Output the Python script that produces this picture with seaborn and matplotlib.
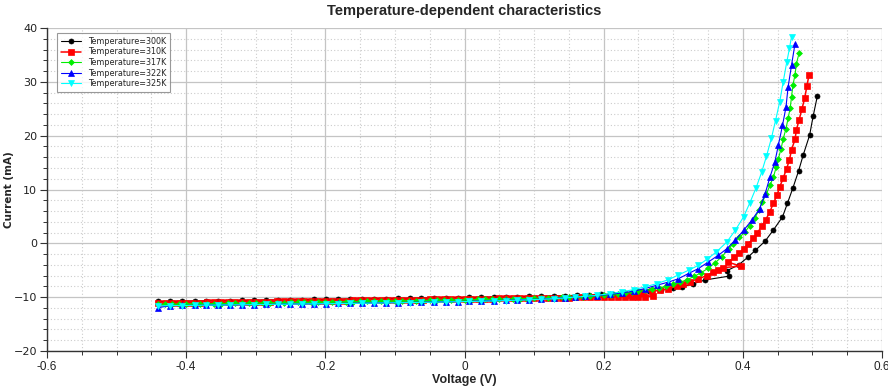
import numpy as np
import pandas as pd
import matplotlib
matplotlib.use("Agg")
import matplotlib.pyplot as plt
import seaborn as sns
from matplotlib.ticker import MultipleLocator

# ---------------- data ----------------
labels = ["Temperature=300K", "Temperature=310K", "Temperature=317K",
          "Temperature=322K", "Temperature=325K"]

V_300 = [-0.440, -0.423, -0.406, -0.388, -0.371, -0.354, -0.337, -0.320, -0.302, -0.285,
         -0.268, -0.251, -0.234, -0.216, -0.199, -0.182, -0.165, -0.148, -0.130, -0.113,
         -0.096, -0.079, -0.062, -0.044, -0.027, -0.010, 0.007, 0.024, 0.042, 0.059,
         0.076, 0.093, 0.110, 0.128, 0.145, 0.162, 0.179, 0.196, 0.213, 0.230,
         0.248, 0.265, 0.282, 0.299, 0.313, 0.329, 0.346, 0.380,
         0.377, 0.394, 0.407, 0.418, 0.432, 0.444, 0.457, 0.464, 0.472, 0.480,
         0.487, 0.496, 0.501, 0.507]
I_300 = [-10.80, -10.77, -10.74, -10.71, -10.68, -10.66, -10.63, -10.60, -10.57, -10.54,
         -10.51, -10.48, -10.46, -10.43, -10.40, -10.37, -10.34, -10.31, -10.28, -10.25,
         -10.23, -10.20, -10.17, -10.14, -10.11, -10.08, -10.04, -10.01, -9.98, -9.94,
         -9.91, -9.87, -9.82, -9.77, -9.72, -9.65, -9.59, -9.50, -9.40, -9.27,
         -9.10, -8.89, -8.63, -8.35, -8.10, -7.50, -6.80, -6.10,
         -5.10, -4.00, -2.60, -1.30, 0.40, 2.50, 4.90, 7.40, 10.30, 13.40,
         16.50, 20.10, 23.60, 27.30]

V_310 = [-0.44, -0.43, -0.42, -0.41, -0.40, -0.39, -0.38, -0.37, -0.36, -0.35,
         -0.34, -0.33, -0.32, -0.31, -0.30, -0.29, -0.28, -0.27, -0.26, -0.25,
         -0.24, -0.23, -0.22, -0.21, -0.20, -0.19, -0.18, -0.17, -0.16, -0.15,
         -0.14, -0.13, -0.12, -0.11, -0.10, -0.09, -0.08, -0.07, -0.06, -0.05,
         -0.04, -0.03, -0.02, -0.01, 0.00, 0.01, 0.02, 0.03, 0.04, 0.05,
         0.06, 0.07, 0.08, 0.09, 0.10, 0.11, 0.12, 0.13, 0.14, 0.15,
         0.16, 0.17, 0.18, 0.19, 0.20, 0.21, 0.22, 0.23, 0.24, 0.25,
         0.26, 0.271,
         0.235, 0.245, 0.257, 0.269, 0.281, 0.293, 0.305, 0.314, 0.324, 0.336,
         0.348, 0.357, 0.365, 0.372, 0.397, 0.379, 0.388, 0.395, 0.401, 0.408,
         0.415, 0.421, 0.427, 0.433, 0.439, 0.444, 0.449, 0.453, 0.458, 0.463,
         0.467, 0.470, 0.475, 0.477, 0.481, 0.485, 0.489, 0.492, 0.495]
I_310 = [-11.10, -11.08, -11.07, -11.05, -11.03, -11.01, -11.00, -10.98, -10.96, -10.94,
         -10.93, -10.91, -10.89, -10.87, -10.86, -10.84, -10.82, -10.80, -10.79, -10.77,
         -10.75, -10.73, -10.72, -10.70, -10.68, -10.66, -10.65, -10.63, -10.61, -10.59,
         -10.58, -10.56, -10.54, -10.52, -10.51, -10.49, -10.47, -10.45, -10.44, -10.42,
         -10.40, -10.38, -10.37, -10.35, -10.33, -10.31, -10.30, -10.28, -10.26, -10.24,
         -10.23, -10.21, -10.19, -10.17, -10.16, -10.14, -10.12, -10.10, -10.09, -10.07,
         -10.05, -10.03, -10.02, -10.00, -9.98, -9.96, -9.95, -9.93, -9.91, -9.89,
         -9.88, -9.86,
         -9.60, -9.35, -9.05, -8.90, -8.73, -8.45, -7.95, -7.55, -7.10, -6.60,
         -6.00, -5.40, -4.90, -4.50, -4.25, -3.50, -2.60, -1.80, -1.00, -0.06,
         0.90, 1.90, 3.20, 4.40, 5.90, 7.50, 8.90, 10.50, 12.10, 13.90,
         15.50, 17.40, 19.30, 21.10, 23.00, 25.00, 27.00, 29.20, 31.20]

V_317 = [-0.44, -0.43, -0.42, -0.41, -0.40, -0.39, -0.38, -0.37, -0.36, -0.35,
         -0.34, -0.33, -0.32, -0.31, -0.30, -0.29, -0.28, -0.27, -0.26, -0.25,
         -0.24, -0.23, -0.22, -0.21, -0.20, -0.19, -0.18, -0.17, -0.16, -0.15,
         -0.14, -0.13, -0.12, -0.11, -0.10, -0.09, -0.08, -0.07, -0.06, -0.05,
         -0.04, -0.03, -0.02, -0.01, 0.00, 0.01, 0.02, 0.03, 0.04, 0.05,
         0.06, 0.07, 0.08, 0.09, 0.10, 0.11, 0.12, 0.13, 0.14, 0.15,
         0.16, 0.17, 0.18, 0.19, 0.20, 0.21, 0.22, 0.23, 0.24, 0.25,
         0.26, 0.27, 0.28, 0.29, 0.30, 0.31, 0.32, 0.33, 0.34, 0.35,
         0.36, 0.37, 0.380, 0.386, 0.395, 0.403, 0.410, 0.417, 0.423, 0.428,
         0.434, 0.439, 0.444, 0.448, 0.451, 0.455, 0.458, 0.462, 0.465, 0.468,
         0.470, 0.472, 0.475, 0.477, 0.481]
I_317 = [-11.35, -11.33, -11.31, -11.29, -11.27, -11.25, -11.23, -11.21, -11.20, -11.18,
         -11.16, -11.14, -11.12, -11.10, -11.08, -11.06, -11.04, -11.02, -11.00, -10.98,
         -10.96, -10.94, -10.93, -10.91, -10.89, -10.87, -10.85, -10.83, -10.81, -10.79,
         -10.77, -10.75, -10.73, -10.71, -10.69, -10.67, -10.66, -10.64, -10.62, -10.60,
         -10.57, -10.55, -10.53, -10.51, -10.48, -10.46, -10.43, -10.41, -10.38, -10.36,
         -10.34, -10.31, -10.28, -10.25, -10.21, -10.18, -10.14, -10.09, -10.05, -10.00,
         -9.94, -9.88, -9.80, -9.72, -9.63, -9.53, -9.41, -9.28, -9.12, -8.94,
         -8.74, -8.52, -8.27, -7.97, -7.62, -7.22, -6.75, -6.15, -5.45, -4.65,
         -3.65, -2.45, -1.00, -0.06, 1.10, 2.10, 3.30, 4.70, 6.10, 7.70,
         9.20, 10.80, 12.30, 14.20, 15.70, 17.60, 19.40, 21.30, 23.20, 25.10,
         27.20, 29.40, 31.30, 33.40, 35.40]

V_322 = [-0.440, -0.423, -0.406, -0.388, -0.371, -0.354, -0.337, -0.320, -0.302, -0.285,
         -0.268, -0.251, -0.234, -0.216, -0.199, -0.182, -0.165, -0.148, -0.130, -0.113,
         -0.096, -0.079, -0.062, -0.044, -0.027, -0.010, 0.007, 0.024, 0.042, 0.059,
         0.076, 0.093, 0.110, 0.128, 0.145, 0.159, 0.173, 0.190, 0.209, 0.226,
         0.243, 0.259, 0.276, 0.293, 0.307, 0.322, 0.336, 0.350, 0.365, 0.377,
         0.389, 0.401, 0.413, 0.424, 0.432, 0.439, 0.446, 0.451, 0.457, 0.462,
         0.465, 0.470, 0.475]
I_322 = [-11.95, -11.57, -11.54, -11.51, -11.48, -11.45, -11.42, -11.40, -11.37, -11.34,
         -11.31, -11.28, -11.25, -11.22, -11.19, -11.16, -11.13, -11.10, -11.07, -11.03,
         -11.00, -10.97, -10.93, -10.89, -10.85, -10.81, -10.76, -10.71, -10.65, -10.58,
         -10.52, -10.44, -10.35, -10.23, -10.10, -9.95, -9.85, -9.70, -9.50, -9.20,
         -8.90, -8.40, -7.80, -7.20, -6.60, -5.60, -4.70, -3.50, -2.20, -1.00,
         0.56, 2.40, 4.30, 6.40, 9.20, 12.30, 15.10, 18.20, 21.90, 25.30,
         29.00, 33.10, 37.10]

V_325 = [-0.440, -0.423, -0.406, -0.388, -0.371, -0.354, -0.337, -0.320, -0.302, -0.285,
         -0.268, -0.251, -0.234, -0.216, -0.199, -0.182, -0.165, -0.148, -0.130, -0.113,
         -0.096, -0.079, -0.062, -0.044, -0.027, -0.010, 0.007, 0.024, 0.042, 0.059,
         0.076, 0.093, 0.110, 0.128, 0.145, 0.159, 0.173, 0.190, 0.209, 0.226,
         0.243, 0.259, 0.276, 0.293, 0.307, 0.322, 0.336, 0.348, 0.362, 0.377,
         0.389, 0.401, 0.410, 0.419, 0.427, 0.434, 0.441, 0.447, 0.453, 0.458,
         0.463, 0.467, 0.470]
I_325 = [-11.62, -11.57, -11.55, -11.52, -11.49, -11.46, -11.44, -11.41, -11.38, -11.35,
         -11.33, -11.30, -11.27, -11.24, -11.21, -11.19, -11.16, -11.13, -11.10, -11.07,
         -11.04, -11.00, -10.97, -10.93, -10.89, -10.85, -10.80, -10.76, -10.70, -10.63,
         -10.56, -10.49, -10.40, -10.28, -10.14, -9.98, -9.85, -9.66, -9.35, -9.00,
         -8.60, -8.10, -7.50, -6.75, -5.90, -5.00, -4.10, -3.00, -1.60, 0.25,
         2.40, 4.90, 7.50, 10.30, 13.20, 16.20, 19.50, 22.80, 26.30, 30.00,
         33.60, 36.20, 38.40]

x_ticks = [-0.6, -0.4, -0.2, 0, 0.2, 0.4, 0.6]
x_tick_labels = ["-0.6", "-0.4", "-0.2", "0", "0.2", "0.4", "0.6"]
y_ticks = [-20, -10, 0, 10, 20, 30, 40]

colors = ["#000000", "#ff0000", "#00ee00", "#0000ff", "#00ffff"]
markers = ["o", "s", "D", "^", "v"]
msizes = [3.6, 4.6, 3.0, 4.2, 4.2]
lwidths = [0.8, 1.1, 0.8, 0.8, 0.8]

NARROW = ["Liberation Sans Narrow", "Liberation Sans", "DejaVu Sans"]

# ---------------- figure ----------------
sns.set_theme(style="white")
plt.rcParams["font.family"] = ["DejaVu Sans"]

fig = plt.figure(figsize=(8.88, 3.91), dpi=100)
ax = fig.add_axes([47 / 888, 1 - 351 / 391, 835 / 888, 323 / 391])

Vs = [V_300, V_310, V_317, V_322, V_325]
Is = [I_300, I_310, I_317, I_322, I_325]
for k in range(5):
    df = pd.DataFrame({"V": Vs[k], "I": Is[k]})
    sns.lineplot(data=df, x="V", y="I", sort=False, estimator=None,
                 color=colors[k], marker=markers[k], markersize=msizes[k],
                 markeredgecolor=colors[k], markerfacecolor=colors[k],
                 markeredgewidth=0.5, linewidth=lwidths[k], label=labels[k],
                 ax=ax, zorder=3 + k)

ax.set_xlim(-0.6, 0.6)
ax.set_ylim(-20, 40)
ax.xaxis.set_minor_locator(MultipleLocator(0.05))
ax.yaxis.set_minor_locator(MultipleLocator(2))
ax.set_xticks(x_ticks)
ax.set_xticklabels(x_tick_labels)
ax.set_yticks(y_ticks)

ax.set_axisbelow(True)
ax.grid(which="major", color="#c4c4c4", linewidth=0.9, linestyle="-")
ax.grid(which="minor", color="#cccccc", linewidth=0.8, linestyle=(0, (1, 2)))

for s in ["top", "right"]:
    ax.spines[s].set_visible(False)
for s in ["left", "bottom"]:
    ax.spines[s].set_color("#333333")
    ax.spines[s].set_linewidth(1.0)

ax.tick_params(which="major", direction="out", length=5, width=0.8, color="#333333",
               left=True, bottom=True)
ax.tick_params(which="minor", direction="out", length=3, width=0.7, color="#333333",
               left=True, bottom=True)
ax.tick_params(axis="y", labelsize=8, pad=2, labelcolor="#222222")
ax.tick_params(axis="x", labelsize=8.5, pad=2, labelcolor="#222222")
for t in ax.get_xticklabels():
    t.set_family(NARROW)

ax.set_xlabel("Voltage (V)", fontsize=9, fontweight="bold", family=NARROW, labelpad=1)
ax.set_ylabel("Current (mA)", fontsize=7.5, fontweight="bold")
ax.yaxis.set_label_coords(-0.04, 0.5)
ax.set_title("Temperature-dependent characteristics", fontsize=10.5, fontweight="bold",
             family=NARROW, pad=9)

leg = ax.legend(loc="upper left", bbox_to_anchor=(0.012, 0.985), borderaxespad=0,
                fontsize=5.8, frameon=True, fancybox=False, handlelength=2.5,
                labelspacing=0.2, borderpad=0.5, handletextpad=0.8)
leg.get_frame().set_edgecolor("#808080")
leg.get_frame().set_linewidth(0.8)

fig.savefig("out.png", dpi=100)
